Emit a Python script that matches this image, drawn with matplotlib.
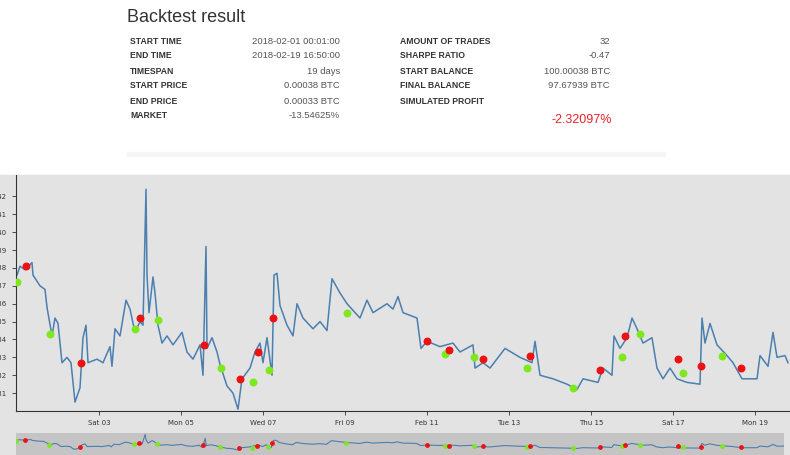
import matplotlib
matplotlib.use("Agg")
import matplotlib.pyplot as plt
from matplotlib.patches import Rectangle
import numpy as np

# price trace: pixel-x positions -> converted to hours; values in 1e-5 BTC
trace_x = [17,20,25,32,33,40,45,47,52,55,58,62,67,71,75,80,83,86,88,97,103,110,112,115,120,126,130,135,140,143,146,147,149,153,155,158,162,167,173,182,187,193,200,203,206,207,212,217,220,227,233,238,242,250,255,260,263,267,272,274,277,280,287,293,297,303,313,320,327,332,340,347,360,367,373,387,393,398,403,417,421,427,440,453,460,473,475,483,490,505,520,532,535,540,553,567,577,583,598,603,612,614,620,627,632,637,643,652,657,663,670,677,687,700,702,705,710,717,727,733,742,757,760,768,773,777,785,788]
trace_v = [37.6,38.1,37.9,38.3,37.6,37.0,36.8,35.8,34.2,35.2,34.9,32.7,33.0,32.7,30.5,31.3,34.1,34.8,32.7,32.9,32.7,33.6,32.5,34.6,34.2,36.2,35.7,34.4,35.0,34.8,42.4,37.6,35.5,37.5,36.6,34.8,33.8,34.2,33.7,34.4,33.3,32.9,33.7,32.0,39.2,33.5,34.1,33.3,32.6,31.4,31.0,30.1,31.8,32.4,33.3,33.8,32.7,34.1,32.0,37.6,37.7,35.9,34.8,34.2,36.0,35.2,34.6,35.0,34.5,37.4,36.6,36.0,35.2,36.2,35.5,36.0,35.7,36.4,35.5,35.2,33.5,33.9,33.6,33.8,33.3,33.7,32.4,32.7,32.4,33.5,33.0,32.7,33.9,32.0,31.8,31.5,31.2,31.8,31.6,32.4,32.0,34.2,33.5,34.1,35.2,34.6,33.8,34.1,32.4,31.8,32.4,31.8,31.6,31.5,35.2,33.8,34.9,33.7,33.1,32.7,31.8,31.8,33.1,32.5,34.4,33.0,33.1,32.7]
buy_x = [17,50,135,158,221,253,269,347,445,474,527,573,622,640,683,722]
buy_v = [37.2,34.3,34.6,35.1,32.4,31.6,32.3,35.5,33.2,33.0,32.4,31.3,33.0,34.3,32.1,33.1]
sell_x = [26,81,140,204,240,258,273,427,449,483,530,600,625,678,701,741]
sell_v = [38.1,32.7,35.2,33.7,31.8,33.3,35.2,33.9,33.4,32.9,33.1,32.3,34.2,32.9,32.5,32.4]
tick_labels = ["Sat 03","Mon 05","Wed 07","Fri 09","Feb 11","Tue 13","Thu 15","Sat 17","Mon 19"]
tick_hours = [48,96,144,192,240,288,336,384,432]
y_ticks = [31,32,33,34,35,36,37,38,39,40,41,42]

left_rows = [("START TIME","2018-02-01 00:01:00"),("END TIME","2018-02-19 16:50:00"),("TIMESPAN","19 days"),
             ("START PRICE","0.00038 BTC"),("END PRICE","0.00033 BTC"),("MARKET","-13.54625%")]
right_rows = [("AMOUNT OF TRADES","32"),("SHARPE RATIO","-0.47"),("START BALANCE","100.00038 BTC"),
              ("FINAL BALANCE","97.67939 BTC"),("SIMULATED PROFIT","")]
profit = "-2.32097%"

def h(xs): return [(x-17)*24/41 for x in xs]
def v(vs): return [a*1e-5 for a in vs]

W,H = 790,455
fig = plt.figure(figsize=(7.9,4.55), dpi=100)
fig.patches.append(Rectangle((0,0),1,(H-175)/H, transform=fig.transFigure, color="#e3e3e3", zorder=-5))
fig.patches.append(Rectangle((127/W,(H-156)/H),538/W,4/H, transform=fig.transFigure, color="#f5f5f5", zorder=-5))

fig.text(127/W,1-17/H,"Backtest result",fontsize=13,color="#333333",va="center",family="Liberation Sans")
for i,(k,val) in enumerate(left_rows):
    y = 1-(41+15*i)/H
    fig.text(130/W,y,k,fontsize=6.2,weight="bold",color="#333333",va="center",family="Liberation Sans")
    fig.text(340/W,y,val,fontsize=6.8,color="#555555",va="center",ha="right",family="Liberation Sans")
for i,(k,val) in enumerate(right_rows):
    y = 1-(41+15*i)/H
    fig.text(400/W,y,k,fontsize=6.2,weight="bold",color="#333333",va="center",family="Liberation Sans")
    fig.text(610/W,y,val,fontsize=6.8,color="#555555",va="center",ha="right",family="Liberation Sans")
fig.text(612/W,1-120/H,profit,fontsize=9,color="#e8202a",va="center",ha="right",family="Liberation Sans")

xl = ((16-17)*24/41,(790-17)*24/41)
ax = fig.add_axes([16/W,(H-411)/H,774/W,236/H], zorder=2)
ax.set_facecolor("#e3e3e3")
ax.plot(h(trace_x),v(trace_v),color="#4a7fb0",lw=1.1)
ax.scatter(h(buy_x),v(buy_v),s=22,color="#7ee81f",zorder=3)
ax.scatter(h(sell_x),v(sell_v),s=22,color="#ee1111",zorder=3)
ax.set_xlim(*xl)
ax.set_ylim(30.0e-5,43.2e-5)
ax.set_yticks([t*1e-5 for t in y_ticks])
ax.set_yticklabels([f"{t*1e-5:.5f}" for t in y_ticks])
ax.set_xticks(tick_hours); ax.set_xticklabels(tick_labels)
ax.tick_params(labelsize=5, colors="#333333", length=3, width=0.6)
for s in ["top","right"]: ax.spines[s].set_visible(False)
for s in ["left","bottom"]: ax.spines[s].set_color("#333333"); ax.spines[s].set_linewidth(0.8)

bx = fig.add_axes([16/W,0,768/W,(H-433)/H], zorder=2)
bx.set_facecolor("#c4c4c4")
bx.add_patch(Rectangle((0,0),1,1,transform=bx.transAxes,color="#c4c4c4",zorder=0))
bx.plot(h(trace_x),v(trace_v),color="#4a7fb0",lw=0.8)
bx.scatter(h(buy_x),v(buy_v),s=6,color="#7ee81f",zorder=3)
bx.scatter(h(sell_x),v(sell_v),s=6,color="#ee1111",zorder=3)
bx.set_xlim(0,(784-17)*24/41)
bx.set_ylim(26e-5,43.5e-5)
bx.set_xticks([]); bx.set_yticks([])
for s in bx.spines.values(): s.set_visible(False)
fig.savefig("out.png",dpi=100)
